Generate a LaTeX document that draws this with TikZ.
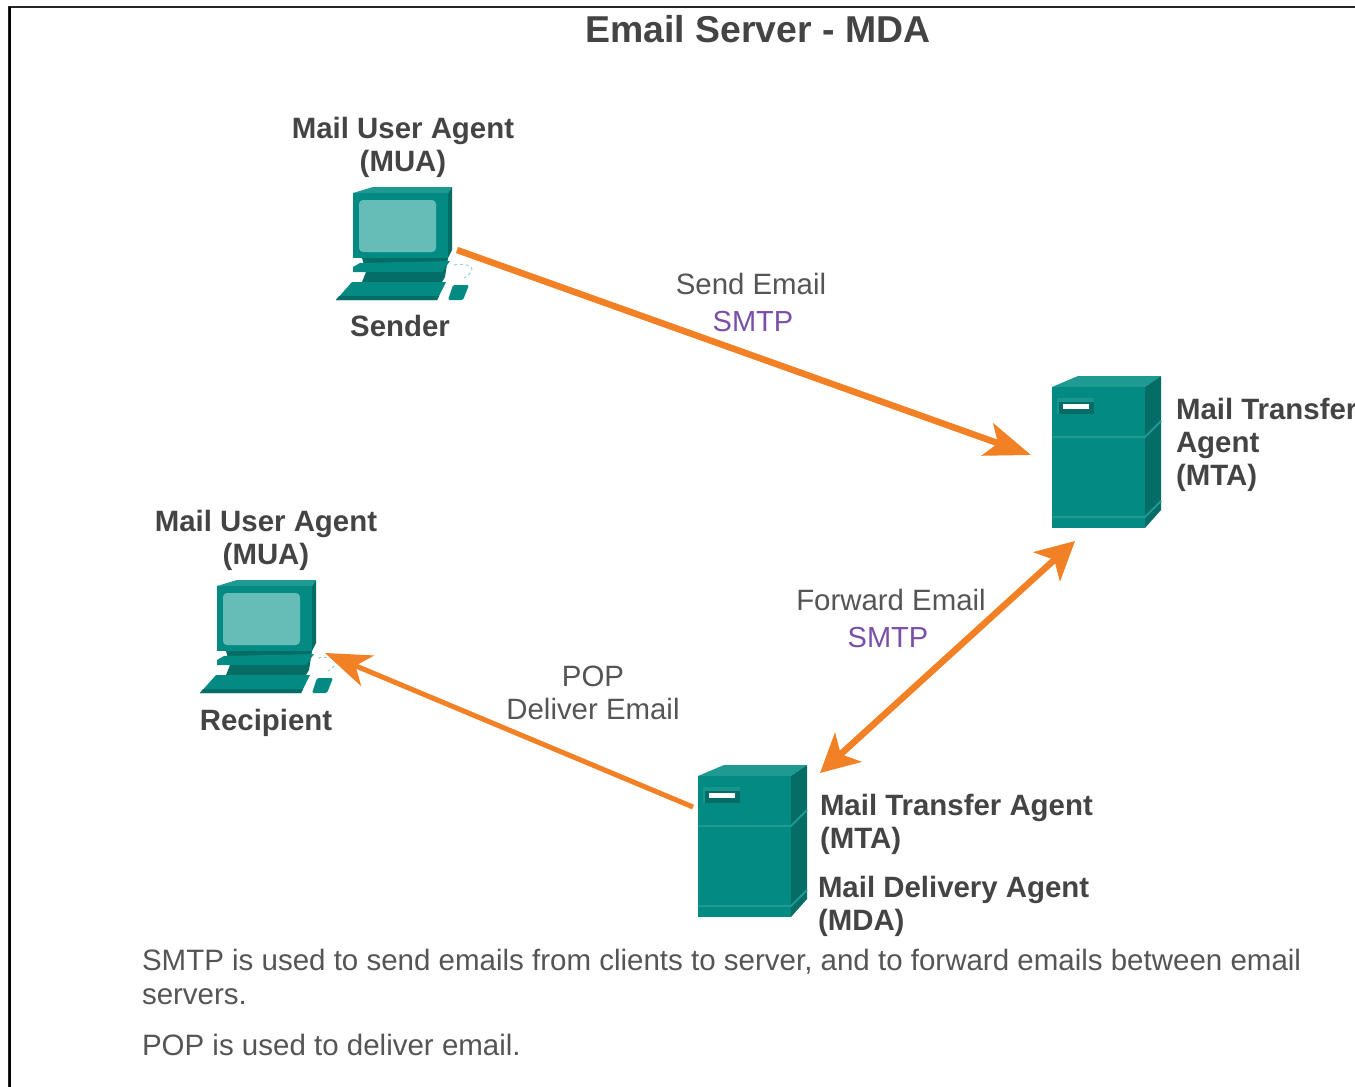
\documentclass[tikz,border=0pt]{standalone}
\usepackage{fontspec}
\setmainfont{Liberation Sans}
\usetikzlibrary{arrows.meta}
\definecolor{tealM}{HTML}{038A83}
\definecolor{tealD}{HTML}{056C66}
\definecolor{tealT}{HTML}{1F9A92}
\definecolor{tealL}{HTML}{66BDB7}
\definecolor{orangeA}{HTML}{F28024}
\definecolor{purpleT}{HTML}{7A4FA8}
\definecolor{greyT}{HTML}{555555}
\definecolor{boldT}{HTML}{444444}
\tikzset{
  x=1pt,y=-1pt,
  every node/.style={inner sep=0pt,outer sep=0pt},
  headA/.tip={Stealth[length=46pt,width=34pt,inset=11pt]},
  headB/.tip={Stealth[length=38pt,width=39pt,inset=10pt]},
  headC/.tip={Stealth[length=46pt,width=33pt,inset=13pt]},
  boldlabel/.style={font=\fontsize{29.4}{33}\selectfont\bfseries,text=boldT,align=center},
  boldleft/.style={font=\fontsize{29.4}{33}\selectfont\bfseries,text=boldT,align=left,anchor=west},
  plainlabel/.style={font=\fontsize{29.4}{33}\selectfont,text=greyT,align=center},
  protolabel/.style={font=\fontsize{29}{33}\selectfont,text=purpleT,align=center},
  bodytext/.style={font=\fontsize{29.5}{33.5}\selectfont,text=greyT,align=left,anchor=west},
  computer/.pic={
    % monitor
    \fill[tealT] (17,6) -- (37,0) -- (116,0) -- (112,6) -- cycle;
    \fill[tealD] (112,6) -- (116,0) -- (116,63) -- (112,71) -- cycle;
    \fill[tealM] (17,6) rectangle (112,71);
    \fill[tealL,rounded corners=4pt] (23,13) rectangle (100,65);
    % stand
    \fill[tealD] (26,71) -- (112,71) -- (109,90) -- (106,95) -- (26,95) -- (30,85) -- cycle;
    \fill[tealM] (17,85) -- (17,80) -- (24,76) -- (114,74) -- (106,85) -- cycle;
    % keyboard
    \fill[tealM] (0,113) -- (16,95) -- (110,95) -- (101,113) -- cycle;
    \fill[tealD] (0,113) -- (101,113) -- (103,109) -- (3,109) -- cycle;
    % mouse
    \fill[tealM,rounded corners=1.5pt] (112,113) -- (117,98) -- (133,98) -- (127,113) -- cycle;
    % cable
    \draw[tealL!70,line width=1pt,dashed] (118,78) .. controls (135,75) and (143,82) .. (128,91);
    \coordinate (-out) at (121,63);
    \coordinate (-in) at (125,73);
  },
  serverbox/.pic={
    \fill[tealT] (0,11) -- (26,0) -- (109,0) -- (93,11) -- cycle;
    \fill[tealD] (93,11) -- (109,0) -- (109,134) -- (93,152) -- cycle;
    \fill[tealM] (0,11) rectangle (93,152);
    \draw[tealT,line width=2pt] (0,61) -- (93,61) -- (109,45);
    \draw[tealT,line width=2pt] (0,141) -- (93,141) -- (109,125);
    \fill[tealT!70!tealM] (5,22) rectangle (42,38);
    \fill[tealD] (7,26) rectangle (42,38);
    \fill[white] (11,28) rectangle (37,33);
  },
}
\begin{document}
\begin{tikzpicture}
\useasboundingbox (0,0) rectangle (1355,1087);
\fill[white] (0,0) rectangle (1355,1087);
\draw[black!85,line width=2pt] (9,1087) -- (9,7) -- (1355,7);
\draw[black,line width=2pt] (10,1087) -- (10,7);

\node[font=\fontsize{37.4}{40}\selectfont\bfseries,text=boldT] (title) at (758,29.5) {Email Server - MDA};

\pic (snd) at (336,187) {computer};
\pic (rcp) at (200,580) {computer};
\pic (mta) at (1052,376) {serverbox};
\pic (mda) at (698,765) {serverbox};

\node[boldlabel] (muaA) at (403,147) {Mail User Agent\\(MUA)};
\node[boldlabel] (sender) at (400,325.5) {Sender};
\node[boldlabel] (muaB) at (266,540) {Mail User Agent\\(MUA)};
\node[boldlabel] (recipient) at (266,723) {Recipient};
\node[boldleft] (mtaL) at (1176,445) {Mail Transfer\\Agent\\(MTA)};
\node[boldleft] (mdaA) at (820,824) {Mail Transfer Agent\\(MTA)};
\node[boldleft] (mdaB) at (818,906) {Mail Delivery Agent\\(MDA)};

\node[plainlabel] (sendL) at (751,284) {Send Email};
\node[protolabel] (sendP) at (753,322) {SMTP};
\node[plainlabel] (fwdL) at (891,600) {Forward Email};
\node[protolabel] (fwdP) at (888,638) {SMTP};
\node[plainlabel] (popL) at (593,693) {POP\\Deliver Email};

\coordinate (mtaIn) at (1031,455);
\coordinate (mtaDown) at (1075,541);
\coordinate (mdaUp) at (820,773);
\coordinate (mdaOut) at (693,807);

\draw[draw=orangeA,line width=6.5pt,-headA] (snd-out) -- (mtaIn);
\draw[draw=orangeA,line width=6.5pt,headB-headB] (mdaUp) -- (mtaDown);
\draw[draw=orangeA,line width=5pt,-headC] (mdaOut) -- (rcp-in);

\node[bodytext] (bodyA) at (142,977) {SMTP is used to send emails from clients to server, and to forward emails between email\\servers.};
\node[bodytext] (bodyB) at (142,1045) {POP is used to deliver email.};
\end{tikzpicture}
\end{document}
